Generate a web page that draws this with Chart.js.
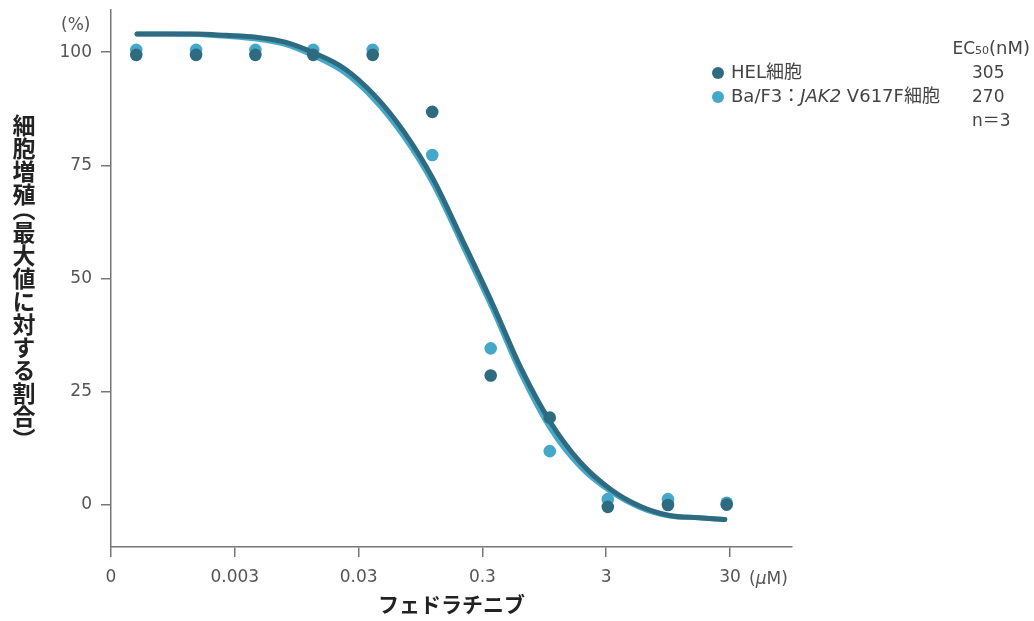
<!DOCTYPE html>
<html>
<head>
<meta charset="utf-8">
<script src="https://cdn.jsdelivr.net/npm/chart.js@4"></script>
<style>
  body { margin: 0; background: #fff; }
  #wrap { position: relative; width: 1034px; height: 621px; font-family: "DejaVu Sans", "Noto Sans CJK JP", sans-serif; }
  #wrap div.t { position: absolute; white-space: nowrap; color: #444; font-size: 17px; line-height: 20px; }
  #wrap div.lg { font-size: 18px; }
  .ytitle { position: absolute; left: 12px; top: 114px; height: 360px; white-space: nowrap; writing-mode: vertical-rl; font-family: "Noto Sans CJK JP", sans-serif; font-weight: bold; font-size: 23px; line-height: 23px; color: #222; }
  .ytitle .po { margin-top: -8px; }
  .ytitle .pc { margin-bottom: -8px; }
  .dot { position: absolute; width: 12px; height: 12px; border-radius: 50%; }
</style>
</head>
<body>
<div id="wrap">
  <canvas id="chart" width="1034" height="621"></canvas>
  <div class="ytitle">細胞増殖<span class="po">（</span>最大値に対する割合<span class="pc">）</span></div>
  <div class="t" style="left:61px; top:14px; color:#555;">(%)</div>
  <div class="t" style="left:749px; top:568px; color:#555;">(<i>μ</i>M)</div>
  <div class="t" style="right:4px; top:38px;">EC<span style="font-size:11px;">50</span><span style="font-size:18px;">(nM)</span></div>
  <div class="dot" style="left:712px; top:67px; background:#2f6b80;"></div>
  <div class="t lg" style="left:731px; top:62px;">HEL細胞</div>
  <div class="t" style="left:972px; top:62px;">305</div>
  <div class="dot" style="left:712px; top:91px; background:#46a8c8;"></div>
  <div class="t lg" style="left:731px; top:86px;">Ba/F3：<i>JAK2</i> V617F細胞</div>
  <div class="t" style="left:972px; top:86px;">270</div>
  <div class="t" style="left:972px; top:110px;">n＝3</div>
</div>
<script>
// 濃度 (μM) - 画像から読み取り
const doses = [0.00048, 0.00146, 0.0044, 0.0129, 0.039, 0.118, 0.35, 1.05, 3.09, 9.46, 28.2];
const helValues = [99.4, 99.4, 99.4, 99.4, 99.4, 86.8, 28.6, 19.3, -0.4, 0.0, 0.1];
const bafValues = [100.5, 100.5, 100.5, 100.5, 100.5, 77.3, 34.6, 11.9, 1.3, 1.3, 0.5];

// フィッティング曲線 (画像から読み取った点)
const fitDoses = [0.000487, 0.000851, 0.00149, 0.00255, 0.00446, 0.00766, 0.0134, 0.0230, 0.0402, 0.0689, 0.121, 0.207, 0.361, 0.620, 1.08, 1.86, 3.25, 5.58, 9.76, 16.8, 27.2];
const helFit = [104.0, 104.0, 104.0, 103.7, 103.3, 102.2, 99.7, 96.4, 90.5, 82.6, 71.8, 58.5, 44.5, 30.0, 18.0, 9.4, 3.5, -0.2, -2.3, -2.8, -3.2];
const bafFit = [104.0, 104.0, 103.9, 103.5, 102.9, 101.7, 99.0, 95.5, 89.5, 81.5, 70.7, 57.4, 43.4, 28.8, 16.6, 8.4, 3.0, -0.5, -2.4, -2.8, -3.2];

const xTickVals = [0.0003, 0.003, 0.03, 0.3, 3, 30];
const xTickLabels = ['0', '0.003', '0.03', '0.3', '3', '30'];
const yTickVals = [0, 25, 50, 75, 100];

const darkColor = '#2f6b80';
const lightColor = '#46a8c8';

function pts(xs, ys) {
  return xs.map((x, i) => ({ x: x, y: ys[i] }));
}

let ctx = document.getElementById('chart').getContext('2d');

new Chart(ctx, {
  type: 'scatter',
  data: {
    datasets: [
      {
        label: 'HEL細胞',
        data: pts(doses, helValues),
        backgroundColor: darkColor,
        pointRadius: 6.3,
        pointBorderWidth: 0,
        order: 0
      },
      {
        label: 'HEL fit',
        data: pts(fitDoses, helFit),
        showLine: true,
        borderColor: darkColor,
        borderWidth: 5,
        borderCapStyle: 'round',
        cubicInterpolationMode: 'monotone',
        pointRadius: 0,
        order: 1
      },
      {
        label: 'Ba/F3:JAK2 V617F細胞',
        data: pts(doses, bafValues),
        backgroundColor: lightColor,
        pointRadius: 6.3,
        pointBorderWidth: 0,
        order: 2
      },
      {
        label: 'Ba/F3 fit',
        data: pts(fitDoses, bafFit),
        showLine: true,
        borderColor: lightColor,
        borderWidth: 5,
        borderCapStyle: 'round',
        cubicInterpolationMode: 'monotone',
        pointRadius: 0,
        order: 3
      }
    ]
  },
  options: {
    responsive: false,
    devicePixelRatio: 1,
    animation: false,
    layout: { padding: { top: 10, right: 242, left: 0, bottom: 0 } },
    plugins: {
      legend: { display: false },
      tooltip: { enabled: false }
    },
    scales: {
      x: {
        type: 'logarithmic',
        min: 0.0003,
        max: 95,
        afterBuildTicks: (axis) => { axis.ticks = xTickVals.map(v => ({ value: v })); },
        afterFit: (s) => { s.height = 74; },
        ticks: {
          color: '#555',
          font: { family: '"DejaVu Sans", sans-serif', size: 17 },
          padding: 10,
          maxRotation: 0,
          callback: (val, i) => xTickLabels[i]
        },
        grid: { drawOnChartArea: false, drawTicks: true, tickLength: 10, color: '#777', lineWidth: 1.5 },
        border: { color: '#777', width: 1.5 },
        title: {
          display: true,
          text: 'フェドラチニブ',
          color: '#222',
          font: { family: '"Noto Sans CJK JP", sans-serif', size: 21, weight: 'bold' },
          padding: { top: 0 }
        }
      },
      y: {
        min: -9.26,
        max: 109.3,
        afterBuildTicks: (axis) => { axis.ticks = yTickVals.map(v => ({ value: v })); },
        afterFit: (s) => { s.width = 111; s.paddingTop = 0; s.paddingBottom = 0; },
        ticks: {
          color: '#555',
          font: { family: '"DejaVu Sans", sans-serif', size: 17 },
          padding: 9
        },
        grid: { drawOnChartArea: false, drawTicks: true, tickLength: 10, color: '#777', lineWidth: 1.5 },
        border: { color: '#777', width: 1.5 }
      }
    }
  }
});
</script>
</body>
</html>
